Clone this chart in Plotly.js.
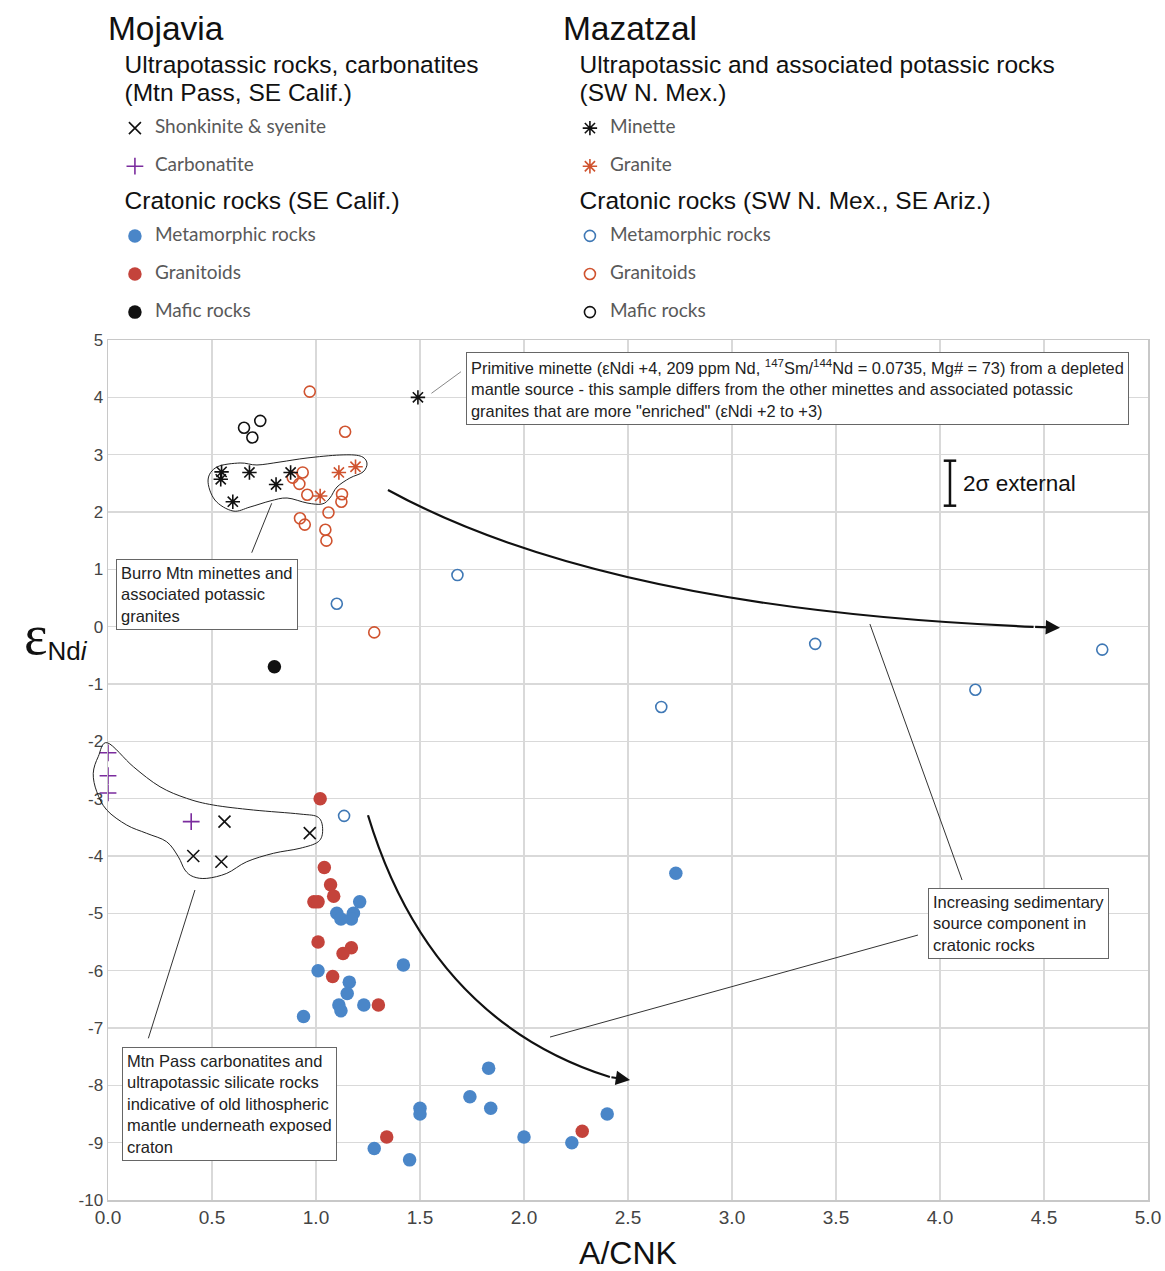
<!DOCTYPE html>
<html><head><meta charset="utf-8">
<script src="https://cdn.plot.ly/plotly-3.0.1.min.js"></script>
<style>html,body{margin:0;padding:0;background:#fff}</style>
</head><body><div id="chart" style="width:1165px;height:1271px"></div>
<script>
// ---------------- data (A/CNK, eNdi) ----------------
// Mojavia – ultrapotassic rocks, carbonatites (Mtn Pass)
const mojShonkX = [0.56, 0.97, 0.41, 0.545];
const mojShonkY = [-3.4, -3.6, -4.0, -4.1];
const mojCarbX = [0.0, 0.0, 0.0, 0.4];
const mojCarbY = [-2.2, -2.6, -2.9, -3.4];
// Mojavia – cratonic rocks (SE Calif.)
const mojMetaX = [1.21, 1.10, 1.12, 1.18, 1.17, 1.42, 1.01, 1.16, 1.15, 1.11, 1.12, 1.23, 0.94, 2.73, 1.83, 1.74, 1.84, 1.50, 1.50, 1.28, 1.45, 2.00, 2.23, 2.40];
const mojMetaY = [-4.8, -5.0, -5.1, -5.0, -5.1, -5.9, -6.0, -6.2, -6.4, -6.6, -6.7, -6.6, -6.8, -4.3, -7.7, -8.2, -8.4, -8.4, -8.5, -9.1, -9.3, -8.9, -9.0, -8.5];
const mojGranX = [1.02, 1.04, 1.07, 1.085, 0.99, 1.01, 1.01, 1.17, 1.13, 1.08, 1.30, 1.34, 2.28];
const mojGranY = [-3.0, -4.2, -4.5, -4.7, -4.8, -4.8, -5.5, -5.6, -5.7, -6.1, -6.6, -8.9, -8.8];
const mojMaficX = [0.80];
const mojMaficY = [-0.7];
// Mazatzal – ultrapotassic and associated potassic rocks (SW N. Mex.)
const mazMinX = [0.546, 0.542, 0.68, 0.878, 0.808, 0.60, 1.49];
const mazMinY = [2.70, 2.57, 2.69, 2.69, 2.48, 2.18, 4.0];
const mazGraniteX = [1.11, 1.19, 1.02];
const mazGraniteY = [2.69, 2.79, 2.28];
// Mazatzal – cratonic rocks (SW N. Mex., SE Ariz.)
const mazMetaX = [1.10, 1.68, 2.66, 3.40, 4.17, 4.78, 1.135];
const mazMetaY = [0.4, 0.9, -1.4, -0.3, -1.1, -0.4, -3.3];
const mazGranX = [0.97, 1.14, 0.936, 0.888, 0.92, 0.958, 1.125, 1.122, 1.06, 0.923, 0.946, 1.045, 1.05, 1.28];
const mazGranY = [4.1, 3.4, 2.69, 2.6, 2.49, 2.3, 2.31, 2.18, 1.99, 1.89, 1.78, 1.69, 1.5, -0.1];
const mazMaficX = [0.654, 0.732, 0.694];
const mazMaficY = [3.47, 3.59, 3.30];

// axes
const xRange = [0, 5];
const yRange = [-10, 5];
const yTickVals = [5, 4, 3, 2, 1, 0, -1, -2, -3, -4, -5, -6, -7, -8, -9, -10];
const yTickText = ['5', '4', '3', '2', '1', '0', '-1', '-2', '-3', '-4', '-5', '-6', '-7', '-8', '-9', '-10'];

// outlines (data coords) around groups
const burroHullX = [0.481, 0.524, 0.635, 0.716, 0.827, 0.957, 1.115, 1.212, 1.245, 1.226, 1.163, 1.101, 1.067, 1.029, 0.957, 0.861, 0.779, 0.683, 0.601, 0.514];
const burroHullY = [2.558, 2.785, 2.855, 2.820, 2.872, 2.942, 2.994, 2.977, 2.855, 2.698, 2.593, 2.436, 2.244, 2.139, 2.157, 2.244, 2.192, 2.087, 2.017, 2.209];
const passHullX = [-0.003, 0.122, 0.25, 0.378, 0.506, 0.699, 0.923, 1.011, 1.032, 1.011, 0.923, 0.795, 0.667, 0.571, 0.475, 0.41, 0.37, 0.338, 0.282, 0.186, 0.09, -0.006, -0.054, -0.071, -0.047];
const passHullY = [-2.025, -2.443, -2.792, -2.994, -3.111, -3.198, -3.268, -3.326, -3.547, -3.751, -3.866, -3.953, -4.10, -4.303, -4.39, -4.361, -4.245, -4.013, -3.751, -3.605, -3.46, -3.198, -2.879, -2.558, -2.268];

// ---------------- helpers ----------------
const fx = v => (v - xRange[0]) / (xRange[1] - xRange[0]);
const fy = v => (v - yRange[0]) / (yRange[1] - yRange[0]);
function closedSpline(xs, ys) {
  const n = xs.length;
  const P = i => [xs[(i + n) % n], ys[(i + n) % n]];
  let d = 'M' + fx(xs[0]) + ',' + fy(ys[0]);
  for (let i = 0; i < n; i++) {
    const p0 = P(i - 1), p1 = P(i), p2 = P(i + 1), p3 = P(i + 2);
    const c1 = [p1[0] + (p2[0] - p0[0]) / 6, p1[1] + (p2[1] - p0[1]) / 6];
    const c2 = [p2[0] - (p3[0] - p1[0]) / 6, p2[1] - (p3[1] - p1[1]) / 6];
    d += ' C' + fx(c1[0]) + ',' + fy(c1[1]) + ' ' + fx(c2[0]) + ',' + fy(c2[1]) + ' ' + fx(p2[0]) + ',' + fy(p2[1]);
  }
  return d + ' Z';
}

const C = {
  blue: '#4a86c8', red: '#c4433b', openRed: '#d0532f', openBlue: '#3f78b5',
  purple: '#7b2c9e', black: '#111111'
};
const SANS = 'Liberation Sans, Arial, sans-serif';
const NARROW = 'Liberation Sans Narrow, Arial Narrow, Liberation Sans, Arial, sans-serif';
const ITEMFONT = 'Lato, Open Sans, sans-serif';
const GT = {family: SANS, size: 22, color: '#111'};
const item = s => '<span style="font-size:19px">' + s + '</span><br>\u00a0';
const gtitle = s => s.split('<br>').map(l => '<sup><span style="font-size:24.5px">\u00a0\u00a0' + l + '</span></sup>').join('<br>');
const ltitle = s => '<sup><span style="font-size:33.5px">' + s + '</span></sup>';

function tr(x, y, name, symbol, color, size, lw, group, legend, gt) {
  const t = {
    type: 'scatter', mode: 'markers', x: x, y: y, name: item(name),
    legend: legend, legendgroup: group,
    marker: {symbol: symbol, color: color, size: size, line: {width: lw, color: color}},
    hoverinfo: 'x+y'
  };
  if (gt) t.legendgrouptitle = {text: gtitle(gt), font: GT};
  return t;
}

const traces = [
  tr(mazMetaX, mazMetaY, 'Metamorphic rocks', 'circle-open', C.openBlue, 11, 1.6, 'mazC', 'legend2', 'Cratonic rocks (SW N. Mex., SE Ariz.)'),
  tr(mazGranX, mazGranY, 'Granitoids', 'circle-open', C.openRed, 11, 1.6, 'mazC', 'legend2'),
  tr(mazMaficX, mazMaficY, 'Mafic rocks', 'circle-open', C.black, 11, 1.6, 'mazC', 'legend2'),
  tr(mazMinX, mazMinY, 'Minette', 'asterisk-open', C.black, 12, 1.6, 'mazU', 'legend2', 'Ultrapotassic and associated potassic rocks<br>(SW N. Mex.)'),
  tr(mazGraniteX, mazGraniteY, 'Granite', 'asterisk-open', C.openRed, 12, 1.6, 'mazU', 'legend2'),
  tr(mojMetaX, mojMetaY, 'Metamorphic rocks', 'circle', C.blue, 13.5, 0, 'mojC', 'legend', 'Cratonic rocks (SE Calif.)'),
  tr(mojGranX, mojGranY, 'Granitoids', 'circle', C.red, 13.5, 0, 'mojC', 'legend'),
  tr(mojMaficX, mojMaficY, 'Mafic rocks', 'circle', C.black, 13.5, 0, 'mojC', 'legend'),
  tr(mojShonkX, mojShonkY, 'Shonkinite &amp; syenite', 'x-thin-open', C.black, 12, 1.6, 'mojU', 'legend', 'Ultrapotassic rocks, carbonatites<br>(Mtn Pass, SE Calif.)'),
  tr(mojCarbX, mojCarbY, 'Carbonatite', 'cross-thin-open', C.purple, 12, 1.6, 'mojU', 'legend')
];
traces[9].cliponaxis = false;
// legend order
traces[3].legendrank = 1; traces[4].legendrank = 2; traces[0].legendrank = 3; traces[1].legendrank = 4; traces[2].legendrank = 5;
traces[8].legendrank = 1; traces[9].legendrank = 2; traces[5].legendrank = 3; traces[6].legendrank = 4; traces[7].legendrank = 5;

// arrows & decorations (data coords)
const arrow1 = {p0: [1.346, 2.384], c: [2.398, 0.296], p1: [4.45, -0.002], tip: [4.577, -0.02]};
const arrow2 = {p0: [1.25, -3.29], c: [1.548, -6.861], p1: [2.413, -7.855], tip: [2.51, -7.908]};
const leaders = [
  [[1.555, 4.07], [1.697, 4.447]],
  [[0.691, 1.29], [0.787, 2.152]],
  [[0.194, -7.18], [0.418, -4.593]],
  [[3.894, -5.379], [2.125, -7.158]],
  [[4.106, -4.419], [3.663, 0.046]]
];
const sigmaBar = {x: 4.048, y0: 2.11, y1: 2.895, cap: 0.03};

const shapes = [
  {type: 'path', xref: 'paper', yref: 'paper', path: closedSpline(burroHullX, burroHullY), line: {color: '#222', width: 1}},
  {type: 'path', xref: 'paper', yref: 'paper', path: closedSpline(passHullX, passHullY), line: {color: '#222', width: 1}},
  {type: 'path', xref: 'x', yref: 'y', path: 'M' + arrow1.p0 + ' Q' + arrow1.c + ' ' + arrow1.p1, line: {color: '#111', width: 2.2}},
  {type: 'path', xref: 'x', yref: 'y', path: 'M' + arrow2.p0 + ' Q' + arrow2.c + ' ' + arrow2.p1, line: {color: '#111', width: 2.2}},
  {type: 'line', xref: 'x', yref: 'y', x0: sigmaBar.x, x1: sigmaBar.x, y0: sigmaBar.y0, y1: sigmaBar.y1, line: {color: '#111', width: 2.5}},
  {type: 'line', xref: 'x', yref: 'y', x0: sigmaBar.x - sigmaBar.cap, x1: sigmaBar.x + sigmaBar.cap, y0: sigmaBar.y0, y1: sigmaBar.y0, line: {color: '#111', width: 2.5}},
  {type: 'line', xref: 'x', yref: 'y', x0: sigmaBar.x - sigmaBar.cap, x1: sigmaBar.x + sigmaBar.cap, y0: sigmaBar.y1, y1: sigmaBar.y1, line: {color: '#111', width: 2.5}}
];
leaders.forEach((l, i) => shapes.push({type: 'line', xref: 'x', yref: 'y', x0: l[0][0], y0: l[0][1], x1: l[1][0], y1: l[1][1],
  line: {color: i === 0 ? '#888' : '#333', width: 1}}));

const boxStyle = {showarrow: false, xref: 'paper', yref: 'paper', xanchor: 'left', yanchor: 'top', align: 'left',
  bgcolor: '#fff', bordercolor: '#666', borderwidth: 1, borderpad: 4};
const annotations = [
  Object.assign({}, boxStyle, {x: 0.3442, y: 0.986, font: {family: SANS, size: 16.4, color: '#222'},
    text: 'Primitive minette (\u03b5Ndi +4, 209 ppm Nd, <sup>147</sup>Sm/<sup>144</sup>Nd = 0.0735, Mg# = 73) from a depleted<br>mantle source - this sample differs from the other minettes and associated potassic<br>granites that are more "enriched" (\u03b5Ndi +2 to +3)'}),
  Object.assign({}, boxStyle, {x: 0.0074, y: 0.7453, font: {family: SANS, size: 16.5, color: '#222'},
    text: 'Burro Mtn minettes and<br>associated potassic<br>granites'}),
  Object.assign({}, boxStyle, {x: 0.0135, y: 0.1779, font: {family: SANS, size: 16.5, color: '#222'},
    text: 'Mtn Pass carbonatites and<br>ultrapotassic silicate rocks<br>indicative of old lithospheric<br>mantle underneath exposed<br>craton'}),
  Object.assign({}, boxStyle, {x: 0.7885, y: 0.3628, font: {family: SANS, size: 16.5, color: '#222'},
    text: 'Increasing sedimentary<br>source component in<br>cratonic rocks'}),
  {showarrow: false, xref: 'x', yref: 'y', x: 4.1, y: 2.5, xanchor: 'left', yanchor: 'middle',
    text: '2\u03c3 external', font: {family: SANS, size: 22.5, color: '#111'}},
  {showarrow: true, xref: 'x', yref: 'y', axref: 'x', ayref: 'y', x: arrow1.tip[0], y: arrow1.tip[1], ax: arrow1.p1[0], ay: arrow1.p1[1],
    text: '', arrowhead: 2, arrowsize: 1.3, arrowwidth: 2.2, arrowcolor: '#111', standoff: 0},
  {showarrow: true, xref: 'x', yref: 'y', axref: 'x', ayref: 'y', x: arrow2.tip[0], y: arrow2.tip[1], ax: arrow2.p1[0], ay: arrow2.p1[1],
    text: '', arrowhead: 2, arrowsize: 1.3, arrowwidth: 2.2, arrowcolor: '#111', standoff: 0},
  {showarrow: false, xref: 'paper', yref: 'paper', x: -0.05, y: 0.657, xanchor: 'center', yanchor: 'middle',
    text: '<span style="font-family:Liberation Serif,serif;font-size:56px">\u03b5</span><sub><span style="font-size:26px">Nd<i>i</i></span></sub>',
    font: {family: SANS, size: 30, color: '#111'}}
];

const legendBase = {
  xanchor: 'left', yanchor: 'top', bgcolor: 'rgba(0,0,0,0)', borderwidth: 0,
  font: {family: ITEMFONT, size: 13.5, color: '#595959'}, valign: 'top',
  tracegroupgap: 0, traceorder: 'grouped', indentation: 9, itemwidth: 30
};

const layout = {
  width: 1165, height: 1271,
  margin: {l: 108, r: 17, t: 340, b: 71, autoexpand: false},
  paper_bgcolor: '#fff', plot_bgcolor: '#fff',
  xaxis: {range: xRange, dtick: 0.5, tick0: 0, tickformat: '.1f', showgrid: true, gridcolor: '#d9d9d9', gridwidth: 1.5,
    zeroline: false, showline: true, linecolor: '#c8c8c8', linewidth: 1.5, mirror: true, ticks: '', automargin: false,
    tickfont: {family: NARROW, size: 19, color: '#444'},
    title: {text: 'A/CNK', font: {family: SANS, size: 32, color: '#111'}, standoff: 14}},
  yaxis: {range: yRange, tickvals: yTickVals, ticktext: yTickText, showgrid: true, gridcolor: '#d9d9d9', gridwidth: 1.5,
    zeroline: false, showline: true, linecolor: '#c8c8c8', linewidth: 1.5, mirror: true, ticks: '', automargin: false,
    tickfont: {family: SANS, size: 17, color: '#444'}},
  legend: Object.assign({}, legendBase, {x: -0.002, y: 1.381,
    title: {text: ltitle('Mojavia'), font: {family: SANS, size: 31, color: '#111'}}}),
  legend2: Object.assign({}, legendBase, {x: 0.4355, y: 1.381,
    title: {text: ltitle('Mazatzal'), font: {family: SANS, size: 31, color: '#111'}}}),
  shapes: shapes,
  annotations: annotations,
  showlegend: true
};

Plotly.newPlot('chart', traces, layout, {displayModeBar: false, staticPlot: true});
</script>
</body></html>
